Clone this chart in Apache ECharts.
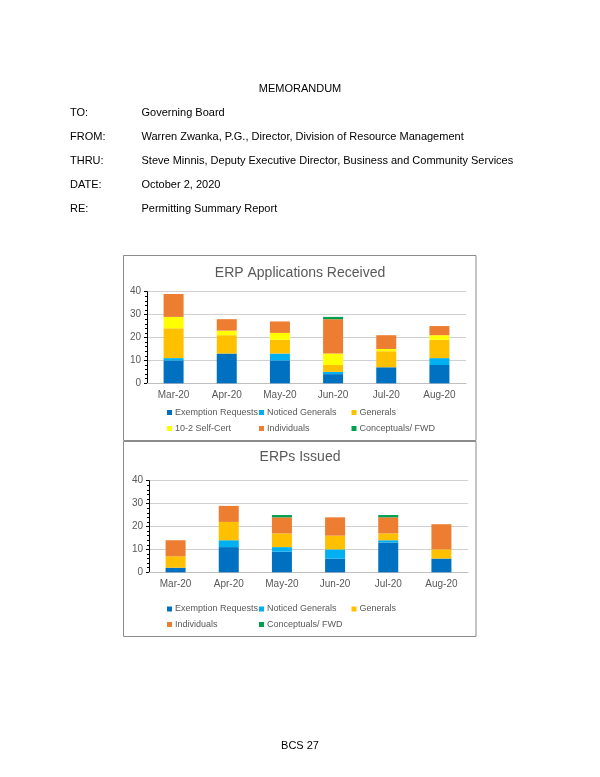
<!DOCTYPE html>
<html><head><meta charset="utf-8">
<script src="https://cdn.jsdelivr.net/npm/echarts@6/dist/echarts.min.js"></script>
<style>html,body{margin:0;padding:0;background:#fff}#c{width:600px;height:777px}</style>
</head><body><div id="c"></div>
<script>
const months = ['Mar-20','Apr-20','May-20','Jun-20','Jul-20','Aug-20'];
const yTicks = [0,10,20,30,40];
// ERP Applications Received
const recvExemption = [10,13,10,4,7,8];
const recvNoticed   = [1,0,3,1,0,3];
const recvGenerals  = [13,8,6,3,7,8];
const recvSelfCert  = [5,2,3,5,1,2];
const recvIndiv     = [10,5,5,15,6,4];
const recvConcept   = [0,0,0,1,0,0];
// ERPs Issued
const issExemption = [2,11,9,6,13,6];
const issNoticed   = [0,3,2,4,1,0];
const issGenerals  = [5,8,6,6,3,4];
const issIndiv     = [7,7,7,8,7,11];
const issConcept   = [0,0,1,0,1,0];

const names = {ex:'Exemption Requests', no:'Noticed Generals', ge:'Generals', sc:'10-2 Self-Cert', ind:'Individuals', co:'Conceptuals/ FWD'};
const colors = {ex:'#0070C0', no:'#00B0F0', ge:'#FFC000', sc:'#FFFF00', ind:'#ED7D31', co:'#00A050'};
const FONT = '"Liberation Sans", Arial, sans-serif';
const gray = '#595959';

const chart = echarts.init(document.getElementById('c'), null, {renderer:'canvas'});

function mkX(gi){
  return {type:'category', gridIndex:gi, data:months,
    axisLine:{lineStyle:{color:'#bfbfbf'}}, axisTick:{show:false},
    axisLabel:{color:gray, fontSize:10, fontFamily:FONT, margin:7}};
}
function mkY(gi){
  return {type:'value', gridIndex:gi, min:yTicks[0], max:yTicks[yTicks.length-1], interval:10,
    axisLine:{show:true, lineStyle:{color:'#000', width:1}},
    axisTick:{show:true, length:3, lineStyle:{color:'#000'}},
    minorTick:{show:true, splitNumber:5, length:2, lineStyle:{color:'#000'}},
    splitLine:{lineStyle:{color:'#d0d0d0'}},
    axisLabel:{color:gray, fontSize:10, fontFamily:FONT, margin:6}};
}
function mkS(key, data, gi){
  return {name:names[key], type:'bar', stack:'s'+gi, xAxisIndex:gi, yAxisIndex:gi,
    data:data, barWidth:20, itemStyle:{color:colors[key]}, emphasis:{disabled:true}};
}
function mkL(key, left, top){
  return {data:[names[key]], left:left, top:top, padding:0, itemWidth:5, itemHeight:5, icon:'rect',
    selectedMode:false, textStyle:{color:gray, fontSize:9, fontFamily:FONT, padding:[0,0,0,-2]}};
}
function memoText(x, y, t, align){
  return {type:'text', x:x, y:y, style:{text:t, fill:'#000', font:'11px '+FONT, textAlign:align||'left', textVerticalAlign:'middle'}};
}

const memo = [
  ['TO:','Governing Board',112.5],
  ['FROM:','Warren Zwanka, P.G., Director, Division of Resource Management',136.7],
  ['THRU:','Steve Minnis, Deputy Executive Director, Business and Community Services',161],
  ['DATE:','October 2, 2020',185],
  ['RE:','Permitting Summary Report',209.3]
];
const graphics = [
  {type:'rect', shape:{x:123.5, y:255.5, width:352.5, height:185}, style:{fill:'none', stroke:'#8c8c8c', lineWidth:1}, z:-1},
  {type:'rect', shape:{x:123.5, y:441.5, width:352.5, height:195}, style:{fill:'none', stroke:'#8c8c8c', lineWidth:1}, z:-1},
  memoText(300, 89, 'MEMORANDUM', 'center'),
  memoText(300, 746, 'BCS 27', 'center')
];
memo.forEach(m => { graphics.push(memoText(70, m[2], m[0])); graphics.push(memoText(141.5, m[2], m[1])); });

chart.setOption({
  animation:false,
  title:[
    {text:'ERP Applications Received', left:'center', top:266, padding:0, textStyle:{color:gray, fontSize:14, fontWeight:'normal', fontFamily:FONT}},
    {text:'ERPs Issued', left:'center', top:450.5, padding:0, textStyle:{color:gray, fontSize:14, fontWeight:'normal', fontFamily:FONT}}
  ],
  grid:[
    {left:147, right:134, top:291.7, bottom:777-383.3},
    {left:149, right:132, top:480.7, bottom:777-572.3}
  ],
  xAxis:[mkX(0), mkX(1)],
  yAxis:[mkY(0), mkY(1)],
  legend:[
    mkL('ex',167,408), mkL('no',259,408), mkL('ge',351.5,408),
    mkL('sc',167,424), mkL('ind',259,424), mkL('co',351.5,424),
    mkL('ex',167,604.5), mkL('no',259,604.5), mkL('ge',351.5,604.5),
    mkL('ind',167,620), mkL('co',259,620)
  ],
  series:[
    mkS('ex',recvExemption,0), mkS('no',recvNoticed,0), mkS('ge',recvGenerals,0),
    mkS('sc',recvSelfCert,0), mkS('ind',recvIndiv,0), mkS('co',recvConcept,0),
    mkS('ex',issExemption,1), mkS('no',issNoticed,1), mkS('ge',issGenerals,1),
    mkS('ind',issIndiv,1), mkS('co',issConcept,1)
  ],
  graphic:graphics
});
</script></body></html>
